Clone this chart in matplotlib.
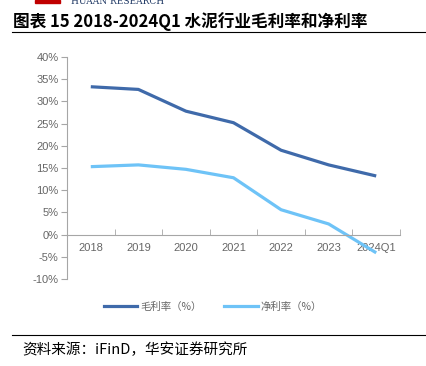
import matplotlib
matplotlib.use("Agg")
import matplotlib.pyplot as plt
from matplotlib.lines import Line2D

plt.rcParams['font.family'] = ['Noto Sans CJK SC', 'DejaVu Sans']

categories = ["2018", "2019", "2020", "2021", "2022", "2023", "2024Q1"]
gross_margin = [33.3, 32.7, 27.8, 25.2, 19.0, 15.7, 13.2]
net_margin = [15.3, 15.7, 14.7, 12.8, 5.6, 2.4, -4.1]
series_names = ["毛利率（%）", "净利率（%）"]
yticks = [-10, -5, 0, 5, 10, 15, 20, 25, 30, 35, 40]

dark_blue = "#3F6AAA"
light_blue = "#6EC3F7"
grey = "#666666"
axis_grey = "#A6A6A6"

fig = plt.figure(figsize=(4.26, 3.66), dpi=100)

# header bits
fig.patches.append(plt.Rectangle((35 / 426, 1 - 3 / 366), 25 / 426, 3 / 366,
                                 transform=fig.transFigure, color="#C00000"))
fig.text(71 / 426, 1 - 2 / 366, "HUAAN RESEARCH", fontsize=6.5, color="#1F3864",
         family="DejaVu Serif", va="center", ha="left")
fig.text(13 / 426, 1 - 22 / 366, "图表 15 2018-2024Q1 水泥行业毛利率和净利率",
         fontsize=12, fontweight="bold", va="center", ha="left")
fig.add_artist(Line2D([12 / 426, 1.0], [1 - 32 / 366] * 2, transform=fig.transFigure,
                      color="black", lw=0.8))
fig.add_artist(Line2D([12 / 426, 1.0], [1 - 335 / 366] * 2, transform=fig.transFigure,
                      color="black", lw=0.8))
fig.text(22 / 426, 1 - 350 / 366, "资料来源：iFinD，华安证券研究所",
         fontsize=10.5, va="center", ha="left")

ax = fig.add_axes([67 / 426, 1 - 279 / 366, 333 / 426, 222 / 366])
for s in ["top", "right"]:
    ax.spines[s].set_visible(False)
ax.spines["bottom"].set_position(("data", 0))
ax.spines["bottom"].set_color(axis_grey)
ax.spines["left"].set_color(axis_grey)

x = range(len(categories))
ax.plot(x, gross_margin, color=dark_blue, lw=2.3, solid_capstyle="butt")
ax.plot(x, net_margin, color=light_blue, lw=2.3, solid_capstyle="butt")

ax.set_xlim(-0.5, len(categories) - 0.5)
ax.set_ylim(-10, 40)
ax.set_yticks(yticks)
ax.set_yticklabels([f"{v}%" for v in yticks])
ax.set_xticks(list(x))
ax.set_xticklabels(categories)
ax.set_xticks([i - 0.5 for i in range(len(categories) + 1)], minor=True)

ax.tick_params(axis="both", labelsize=8, labelcolor=grey,
               labelfontfamily="Liberation Sans")
ax.tick_params(axis="y", length=4, color=axis_grey, pad=2)
ax.tick_params(axis="x", which="major", length=0, pad=6)
ax.tick_params(axis="x", which="minor", length=4, direction="in", color=axis_grey)
ax.patch.set_alpha(0)

handles = [Line2D([], [], color=dark_blue, lw=2.3), Line2D([], [], color=light_blue, lw=2.3)]
fig.legend(handles, series_names, loc="center", bbox_to_anchor=(0.5, 1 - 307 / 366),
           ncol=2, frameon=False, fontsize=7.5, labelcolor=grey, handlelength=3.2,
           handletextpad=0.3, columnspacing=2.2)

fig.savefig("out.png", dpi=100)
